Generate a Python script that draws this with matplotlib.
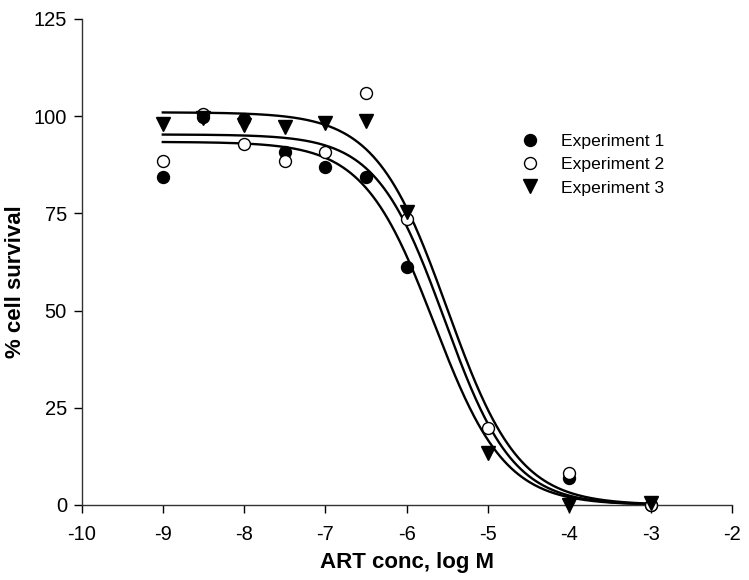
import numpy as np
import matplotlib
matplotlib.use("Agg")
import matplotlib.pyplot as plt

plt.rcParams['font.family'] = ['Liberation Sans', 'DejaVu Sans']

# ---- data ----
log_conc = [-9, -8.5, -8, -7.5, -7, -6.5, -6, -5, -4, -3]
exp1 = [84.3, 99.8, 99.2, 90.9, 87.0, 84.4, 61.3, np.nan, 7.0, 0.0]
exp2 = [88.5, 100.5, 92.8, 88.5, 90.7, 105.9, 73.5, 19.7, 8.2, 0.0]
exp3 = [98.0, 99.6, 97.7, 97.3, 98.2, 98.8, 75.4, 13.3, 0.0, 0.5]
series_labels = ["Experiment 1", "Experiment 2", "Experiment 3"]

# fitted sigmoid parameters (top, bottom, logIC50, hill)
fit_top = [93.4, 95.3, 101.0]
fit_bottom = [0.0, 0.0, 0.0]
fit_logic50 = [-5.663, -5.535, -5.503]
fit_hill = [1.0, 1.034, 0.987]
fit_range = [-9, -3]

x_ticks = [-10, -9, -8, -7, -6, -5, -4, -3, -2]
y_ticks = [0, 25, 50, 75, 100, 125]

W, H = 749, 580
AX_L, AX_R, AX_B, AX_T = 81.5, 732, 505, 19
fig = plt.figure(figsize=(W / 100, H / 100), dpi=100)
ax = fig.add_axes([AX_L / W, (H - AX_B) / H, (AX_R - AX_L) / W, (AX_B - AX_T) / H])

xx = np.linspace(fit_range[0], fit_range[1], 400)
for top, bot, ic, h in zip(fit_top, fit_bottom, fit_logic50, fit_hill):
    yy = bot + (top - bot) / (1 + 10 ** ((xx - ic) * h))
    ax.plot(xx, yy, color='black', lw=1.7, zorder=2, clip_on=False)

ax.plot(log_conc, exp1, 'o', ms=8.6, mfc='black', mec='black', ls='none',
        label=series_labels[0], zorder=3, clip_on=False)
ax.plot(log_conc, exp2, 'o', ms=8.6, mfc='white', mec='black', mew=1.0, ls='none',
        label=series_labels[1], zorder=3, clip_on=False)
ax.plot(log_conc, exp3, 'v', ms=9.6, mfc='black', mec='black', ls='none',
        label=series_labels[2], zorder=3, clip_on=False)

ax.set_xlim(-10, -2)
ax.set_ylim(0, 125)
ax.set_xticks(x_ticks)
ax.set_yticks(y_ticks)
ax.set_xticklabels([str(t) for t in x_ticks])
ax.set_yticklabels([str(t) for t in y_ticks])
ax.tick_params(direction='out', length=5.5, width=1, labelsize=14.5, colors='black')
ax.tick_params(axis='x', pad=9)
ax.tick_params(axis='y', pad=5)
for s in ['top', 'right']:
    ax.spines[s].set_visible(False)
for s in ['left', 'bottom']:
    ax.spines[s].set_linewidth(1)
    ax.spines[s].set_color('#333333')

ax.set_xlabel("ART conc, log M", fontsize=16, fontweight='bold', labelpad=6)
ax.set_ylabel("% cell survival", fontsize=16, fontweight='bold')
ax.yaxis.set_label_coords((26 - AX_L) / (AX_R - AX_L), (AX_B - 282) / (AX_B - AX_T))

leg = ax.legend(loc='upper left',
                bbox_to_anchor=((521 - AX_L) / (AX_R - AX_L), (AX_B - 134) / (AX_B - AX_T)),
                frameon=False, fontsize=12.6, handletextpad=1.3, labelspacing=0.45,
                handlelength=1.0, borderaxespad=0, borderpad=0)

fig.savefig("out.png", dpi=100)
